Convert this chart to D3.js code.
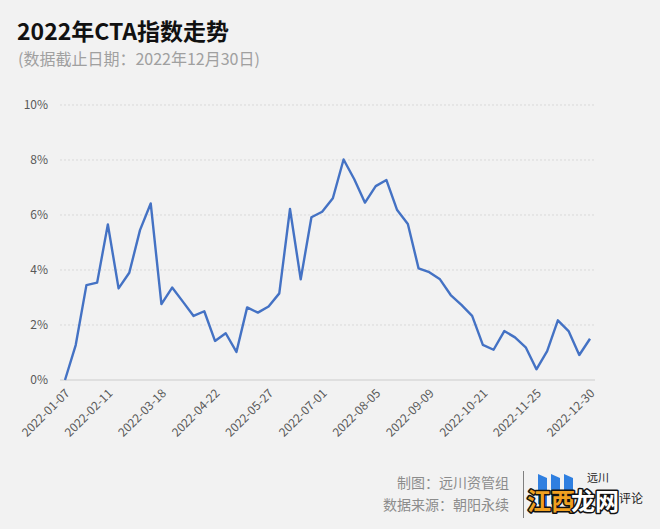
<!DOCTYPE html>
<html>
<head>
<meta charset="utf-8">
<script src="https://cdn.jsdelivr.net/npm/d3@7"></script>
<style>
  html, body { margin: 0; padding: 0; background: #f2f2f2; }
  svg { display: block; }
  text { font-family: "Noto Sans CJK SC", "Noto Sans", sans-serif; }
</style>
</head>
<body>
<svg id="chart" width="660" height="529"></svg>
<script>
const dates = [
  "2022-01-07","2022-01-14","2022-01-21","2022-01-28","2022-02-11","2022-02-18","2022-02-25",
  "2022-03-04","2022-03-11","2022-03-18","2022-03-25","2022-04-01","2022-04-08","2022-04-15",
  "2022-04-22","2022-04-29","2022-05-06","2022-05-13","2022-05-20","2022-05-27","2022-06-02",
  "2022-06-10","2022-06-17","2022-06-24","2022-07-01","2022-07-08","2022-07-15","2022-07-22",
  "2022-07-29","2022-08-05","2022-08-12","2022-08-19","2022-08-26","2022-09-02","2022-09-09",
  "2022-09-16","2022-09-23","2022-09-30","2022-10-14","2022-10-21","2022-10-28","2022-11-04",
  "2022-11-11","2022-11-18","2022-11-25","2022-12-02","2022-12-09","2022-12-16","2022-12-23",
  "2022-12-30"
];
const ctaIndex = [
  0.00, 1.27, 3.45, 3.54, 5.66, 3.33, 3.90, 5.45, 6.42, 2.76,
  3.36, 2.85, 2.33, 2.50, 1.42, 1.70, 1.02, 2.64, 2.45, 2.67,
  3.15, 6.22, 3.66, 5.92, 6.12, 6.61, 8.02, 7.30, 6.45, 7.05,
  7.27, 6.18, 5.67, 4.06, 3.92, 3.66, 3.09, 2.73, 2.33, 1.28,
  1.10, 1.78, 1.55, 1.19, 0.39, 1.05, 2.17, 1.78, 0.91, 1.50
];
const xTickLabels = ["2022-01-07","2022-02-11","2022-03-18","2022-04-22","2022-05-27","2022-07-01",
  "2022-08-05","2022-09-09","2022-10-21","2022-11-25","2022-12-30"];
const yTicks = [0, 2, 4, 6, 8, 10];
const title = "2022年CTA指数走势";
const subtitle = "(数据截止日期：2022年12月30日)";
const credits = ["制图：远川资管组", "数据来源：朝阳永续"];

const svg = d3.select("#chart");
const gridLeft = 60, gridRight = 595;
const x = d3.scalePoint().domain(dates).range([65, 590]);
const y = d3.scaleLinear().domain([0, 10]).range([380, 105]);

// Title
svg.append("text").attr("x", 17).attr("y", 40)
  .attr("font-size", 23).attr("font-weight", "bold").attr("fill", "#111")
  .text(title);
svg.append("text").attr("x", 18).attr("y", 65)
  .attr("font-size", 16).attr("fill", "#a0a0a0")
  .text(subtitle);

// Grid
const grid = svg.append("g");
grid.selectAll("line").data(yTicks.filter(d => d > 0)).join("line")
  .attr("x1", gridLeft).attr("x2", gridRight)
  .attr("y1", d => y(d)).attr("y2", d => y(d))
  .attr("stroke", "#d9d9d9").attr("stroke-width", 1)
  .attr("stroke-dasharray", "2,2");
svg.append("line").attr("x1", gridLeft).attr("x2", gridRight)
  .attr("y1", y(0)).attr("y2", y(0))
  .attr("stroke", "#d9d9d9").attr("stroke-width", 1.5);

// Y axis
const yAxis = d3.axisLeft(y).tickValues(yTicks).tickFormat(d => d + "%").tickSize(0).tickPadding(0);
const gy = svg.append("g").attr("transform", "translate(48,0)").call(yAxis);
gy.select(".domain").remove();
gy.selectAll("text").attr("font-size", 12).attr("fill", "#595959")
  .attr("font-family", "\"Noto Sans CJK SC\", \"Noto Sans\", sans-serif");

// X axis
const xAxis = d3.axisBottom(x).tickValues(xTickLabels).tickSize(0).tickPadding(0);
const gx = svg.append("g").attr("transform", `translate(0,${y(0)})`).call(xAxis);
gx.select(".domain").remove();
gx.selectAll("text")
  .attr("font-size", 12).attr("fill", "#595959")
  .attr("font-family", "\"Noto Sans CJK SC\", \"Noto Sans\", sans-serif")
  .attr("text-anchor", "end")
  .attr("dy", 0)
  .attr("transform", "translate(5,14) rotate(-45)");

// Line
const line = d3.line().x((d, i) => x(dates[i])).y(d => y(d));
svg.append("path").datum(ctaIndex)
  .attr("d", line).attr("fill", "none")
  .attr("stroke", "#4472c4").attr("stroke-width", 2.4)
  .attr("stroke-linejoin", "round");

// Credits
svg.selectAll("text.credit").data(credits).join("text")
  .attr("class", "credit")
  .attr("x", 509).attr("y", (d, i) => 488 + i * 22)
  .attr("text-anchor", "end").attr("font-size", 14).attr("fill", "#8c8c8c")
  .text(d => d);
svg.append("line").attr("x1", 523.5).attr("x2", 523.5).attr("y1", 471).attr("y2", 518)
  .attr("stroke", "#7f7f7f").attr("stroke-width", 1);

// Logo
const logo = svg.append("g");
[[538, 474], [551, 474], [564, 474]].forEach(([lx, ly]) => {
  logo.append("path")
    .attr("d", `M${lx},${ly} L${lx + 9},${ly + 4} L${lx + 9},${ly + 34} L${lx},${ly + 30} Z`)
    .attr("fill", "#2f7fe0");
});
logo.append("text").attr("x", 587).attr("y", 482).attr("font-size", 11).attr("fill", "#222").text("远川");
logo.append("text").attr("x", 619).attr("y", 503).attr("font-size", 12).attr("fill", "#222").text("评论");

// Watermark
const wm = svg.append("g").attr("font-size", 24).attr("font-weight", "bold")
  .attr("stroke", "#111").attr("stroke-width", 3).attr("paint-order", "stroke")
  .attr("stroke-linejoin", "round");
wm.append("text").attr("x", 527).attr("y", 510).attr("fill", "#f0a020").text("江西");
wm.append("text").attr("x", 571).attr("y", 510).attr("fill", "#ffffff").text("龙网");
</script>
</body>
</html>
